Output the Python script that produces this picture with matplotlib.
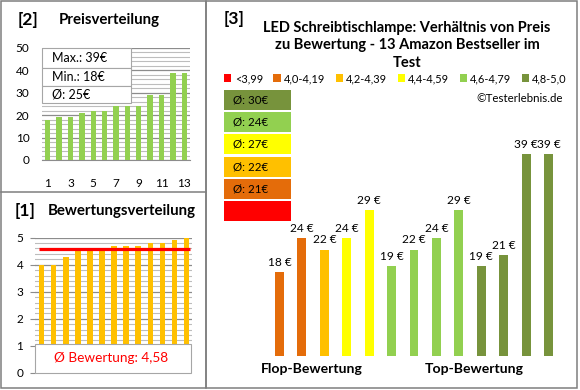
import numpy as np
import matplotlib.pyplot as plt
from matplotlib.patches import Rectangle, Patch

plt.rcParams['font.family'] = ['Lato', 'DejaVu Sans']

# sorted prices (panel 2), ratings (panel 1), prices in rating order (panel 3)
product_no = np.arange(1, 14)
prices_sorted = [18, 19, 19, 21, 22, 22, 24, 24, 24, 29, 29, 39, 39]
ratings = [4.0, 4.0, 4.3, 4.5, 4.5, 4.6, 4.7, 4.7, 4.7, 4.8, 4.8, 4.9, 5.0]
prices_by_rating = [18, 24, 22, 24, 29, 19, 22, 24, 29, 19, 21, 39, 39]

class_labels = ['<3,99', '4,0-4,19', '4,2-4,39', '4,4-4,59', '4,6-4,79', '4,8-5,0']
class_edges = [4.0, 4.2, 4.4, 4.6, 4.8]
class_colors = ['#FF0000', '#E46C0A', '#FFC000', '#FFFF00', '#92D050', '#77933C']

W, H = 580, 390
GRAY = '#7F7F7F'


def px_axes(fig, x0, y0, x1, y1, **kw):
    return fig.add_axes([x0 / W, 1 - y1 / H, (x1 - x0) / W, (y1 - y0) / H], **kw)


def round_half_up(v):
    return int(np.floor(v + 0.5))


def style_grid_axes(ax, major, minor):
    ax.set_yticks(major)
    ax.set_yticks(minor, minor=True)
    ax.grid(axis='y', which='major', color='#8C8C8C', lw=0.9)
    ax.grid(axis='y', which='minor', color='#BDBDBD', lw=0.8)
    ax.set_axisbelow(True)
    for s in ['top', 'right', 'left']:
        ax.spines[s].set_visible(False)
    ax.spines['bottom'].set_color('#8C8C8C')
    ax.tick_params(axis='y', which='minor', length=0)


fig = plt.figure(figsize=(5.8, 3.9), dpi=100)

# ---- [2] Preisverteilung ----
ax_p = px_axes(fig, 42, 48, 190, 160)
ax_p.bar(product_no, prices_sorted, width=0.47, color='#92D050', zorder=3)
ax_p.set_xlim(0.5, 13.5)
ax_p.set_ylim(0, 50)
style_grid_axes(ax_p, np.arange(0, 51, 10), np.arange(0, 51, 2))
ax_p.set_xticks(product_no[::2])
ax_p.tick_params(axis='x', length=0, pad=13, labelsize=8.5)
ax_p.tick_params(axis='y', which='major', length=0, pad=9, labelsize=8.5)

# ---- [1] Bewertungsverteilung ----
ax_r = px_axes(fig, 35, 237.7, 192, 372.7)
ax_r.bar(product_no, ratings, width=0.46, color='#FFC000', zorder=3)
ax_r.set_xlim(0.45, 13.45)
ax_r.set_ylim(0, 5)
style_grid_axes(ax_r, np.arange(0, 6, 1), np.arange(0, 5.01, 0.2))
ax_r.spines['bottom'].set_visible(False)
ax_r.set_xticks([])
ax_r.tick_params(axis='y', which='major', length=3.5, color='#8C8C8C', pad=5, labelsize=8.5)
mean_rating = np.mean(ratings)
ax_r.hlines(mean_rating, 0.75, 13.25, color='#FF0000', lw=2.3, zorder=4)

# ---- [3] price by rating class ----
classes = np.digitize(ratings, class_edges)
bar_colors = [class_colors[c] for c in classes]
ax_m = px_axes(fig, 268.3, 120.8, 559.7, 356)
ax_m.bar(product_no, prices_by_rating, width=0.4, color=bar_colors)
ax_m.set_xlim(0.5, 13.5)
ax_m.set_ylim(3, 45)
ax_m.axis('off')
for x, v in zip(product_no, prices_by_rating):
    ax_m.annotate(f'{v} €', (x, v), xytext=(0, 3), textcoords='offset points',
                  ha='center', va='bottom', fontsize=8.6)

handles = [Patch(facecolor=c, edgecolor='none') for c in class_colors]
fig.legend(handles, class_labels, loc='center', ncol=6,
           bbox_to_anchor=(395.5 / W, 1 - 78.5 / H), frameon=False, fontsize=7.9,
           handlelength=0.65, handleheight=0.65, handletextpad=0.3,
           columnspacing=0.95, borderpad=0)

# ---- overlay: frames, titles, info boxes ----
ov = fig.add_axes([0, 0, 1, 1], zorder=10)
ov.set_xlim(0, W)
ov.set_ylim(H, 0)
ov.axis('off')
ov.patch.set_alpha(0)

ov.add_patch(Rectangle((1, 1), 205, 387, fill=False, ec=GRAY, lw=1.1))
ov.plot([1, 206], [192, 192], color=GRAY, lw=1.1)
ov.add_patch(Rectangle((206, 1), 371, 387, fill=False, ec=GRAY, lw=1.1))

ov.text(28, 20, '[2]', fontsize=12.5, fontweight='bold', ha='center', va='center')
ov.text(109, 20, 'Preisverteilung', fontsize=10.8, fontweight='bold', ha='center', va='center')
ov.text(25, 211, '[1]', fontsize=12.5, fontweight='bold', ha='center', va='center')
ov.text(121.5, 211, 'Bewertungsverteilung', fontsize=10.8, fontweight='bold', ha='center', va='center')
ov.text(234, 19, '[3]', fontsize=12.5, fontweight='bold', ha='center', va='center')
ov.text(407, 45.5, 'LED Schreibtischlampe: Verhältnis von Preis\nzu Bewertung - 13 Amazon Bestseller im\nTest',
        fontsize=10.5, fontweight='bold', ha='center', va='center', linespacing=1.32)
ov.text(563, 98, '©Testerlebnis.de', fontsize=8.3, ha='right', va='center')

# price summary box
stats = [f'Max.: {max(prices_sorted)}€', f'Min.: {min(prices_sorted)}€',
         f'Ø: {round_half_up(np.mean(prices_sorted))}€']
rows = [48, 68, 86, 103]
for i, s in enumerate(stats):
    ov.add_patch(Rectangle((42, rows[i]), 89, rows[i + 1] - rows[i], fc='white', ec='#A6A6A6', lw=0.8))
    ov.text(52, (rows[i] + rows[i + 1]) / 2, s, fontsize=9, ha='left', va='center')

# rating summary box
ov.add_patch(Rectangle((35, 344), 156, 29, fc='white', ec='#A6A6A6', lw=0.8))
ov.text(111, 358.5, 'Ø Bewertung: ' + f'{mean_rating:.2f}'.replace('.', ','),
        fontsize=9.8, color='#FF0000', ha='center', va='center')

# class average boxes
box_top = 90
for c in range(len(class_colors) - 1, -1, -1):
    ov.add_patch(Rectangle((224, box_top), 67, 20, fc=class_colors[c], ec='none'))
    vals = [p for p, k in zip(prices_by_rating, classes) if k == c]
    if vals:
        ov.text(233, box_top + 10, f'Ø: {round_half_up(np.mean(vals))}€', fontsize=8.3,
                ha='left', va='center')
    box_top += 22.2

ov.text(312, 369, 'Flop-Bewertung', fontsize=10.1, fontweight='bold', ha='center', va='center')
ov.text(474, 369, 'Top-Bewertung', fontsize=10.1, fontweight='bold', ha='center', va='center')

fig.savefig('out.png', dpi=100)
